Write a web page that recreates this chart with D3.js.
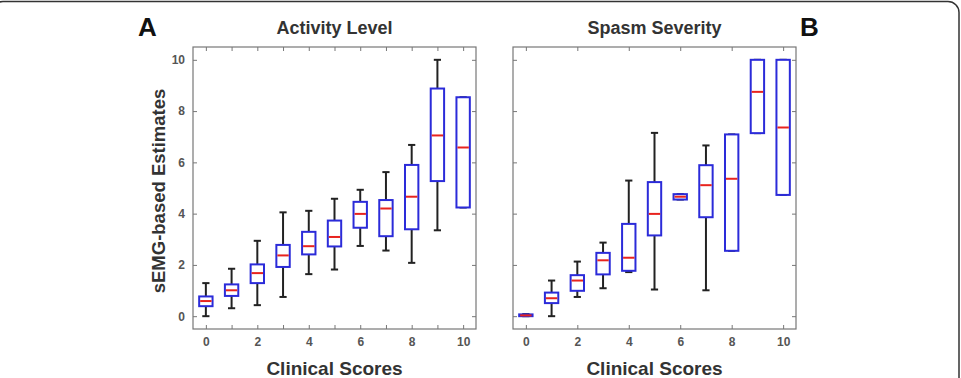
<!DOCTYPE html>
<html>
<head>
<meta charset="utf-8">
<script src="https://cdn.jsdelivr.net/npm/d3@7"></script>
<style>
  body { margin: 0; background: #fff; }
  svg { font-family: "Liberation Sans", Arial, sans-serif; }
  .tick text { font-weight: bold; fill: #555; font-size: 12px; }
  .domain { display: none; }
  .tick line { stroke: #777; }
</style>
</head>
<body>
<div class="chart"></div>
<script>
// clinical scores 0..10
var scores = [0, 1, 2, 3, 4, 5, 6, 7, 8, 9, 10];

// Activity Level: whisker low, q1, median, q3, whisker high
var actLow  = [0.00, 0.31, 0.43, 0.75, 1.64, 1.82, 2.74, 2.56, 2.08, 3.35, 4.24];
var actQ1   = [0.39, 0.79, 1.29, 1.92, 2.41, 2.72, 3.45, 3.12, 3.39, 5.27, 4.24];
var actMed  = [0.59, 1.01, 1.68, 2.37, 2.73, 3.09, 3.99, 4.20, 4.66, 7.05, 6.58];
var actQ3   = [0.77, 1.24, 2.02, 2.78, 3.29, 3.73, 4.46, 4.53, 5.90, 8.88, 8.54];
var actHigh = [1.29, 1.85, 2.94, 4.05, 4.11, 4.58, 4.93, 5.62, 6.68, 10.0, 8.54];

// Spasm Severity
var spLow  = [0.00, 0.00, 0.75, 1.09, 1.72, 1.04, 4.55, 1.01, 2.55, 7.14, 4.73];
var spQ1   = [0.00, 0.51, 0.99, 1.63, 1.77, 3.15, 4.55, 3.86, 2.55, 7.14, 4.73];
var spMed  = [0.03, 0.70, 1.39, 2.18, 2.28, 3.99, 4.66, 5.11, 5.36, 8.75, 7.36];
var spQ3   = [0.07, 0.92, 1.60, 2.47, 3.60, 5.23, 4.76, 5.89, 7.09, 10.0, 10.0];
var spHigh = [0.08, 1.39, 2.13, 2.87, 5.29, 7.15, 4.76, 6.66, 7.09, 10.0, 10.0];

var yTicks = [0, 2, 4, 6, 8, 10];

var svgWidth = 961, svgHeight = 378;
var panelTop = 47, panelHeight = 282, panelWidth = 283;

var svg = d3.select(".chart").append("svg")
  .attr("width", svgWidth)
  .attr("height", svgHeight);

// rounded frame round the figure
svg.append("rect")
  .attr("x", -8).attr("y", 1.5)
  .attr("width", 967).attr("height", 420)
  .attr("rx", 11)
  .attr("fill", "none")
  .attr("stroke", "#333")
  .attr("stroke-width", 1.5);

function makeRows(low, q1, med, q3, high) {
  return scores.map(function(s, i) {
    return { x: s, low: low[i], q1: q1[i], med: med[i], q3: q3[i], high: high[i] };
  });
}

function drawPanel(left, title, rows, xTickVals, showYLabels) {
  var x = d3.scaleLinear().domain([-0.5, 10.5]).range([0, panelWidth]);
  var y = d3.scaleLinear().domain([-0.5, 10.5]).range([panelHeight, 0]);
  var g = svg.append("g").attr("transform", `translate(${left}, ${panelTop})`);

  // axes with inward ticks on all four sides
  g.append("g").attr("transform", `translate(0, ${panelHeight})`)
    .call(d3.axisBottom(x).tickValues(xTickVals).tickSizeInner(-4).tickPadding(8)
      .tickFormat(function(d) { return d % 2 ? "" : d; }));
  g.append("g")
    .call(d3.axisTop(x).tickValues(xTickVals).tickSizeInner(-4).tickFormat(""));
  g.append("g")
    .call(d3.axisLeft(y).tickValues(yTicks).tickSizeInner(-4).tickPadding(8)
      .tickFormat(showYLabels ? d3.format("d") : ""));
  g.append("g").attr("transform", `translate(${panelWidth}, 0)`)
    .call(d3.axisRight(y).tickValues(yTicks).tickSizeInner(-4).tickFormat(""));

  g.append("rect")
    .attr("width", panelWidth).attr("height", panelHeight)
    .attr("fill", "none").attr("stroke", "#777").attr("stroke-width", 1.2);

  var boxW = x(0.26) - x(0);
  var capW = x(0.14) - x(0);

  var b = g.selectAll(".box").data(rows).enter().append("g").attr("class", "box");

  // whiskers
  b.append("line")
    .attr("x1", function(d) { return x(d.x); }).attr("x2", function(d) { return x(d.x); })
    .attr("y1", function(d) { return y(d.high); }).attr("y2", function(d) { return y(d.q3); })
    .attr("stroke", "#222").attr("stroke-width", 2);
  b.append("line")
    .attr("x1", function(d) { return x(d.x); }).attr("x2", function(d) { return x(d.x); })
    .attr("y1", function(d) { return y(d.q1); }).attr("y2", function(d) { return y(d.low); })
    .attr("stroke", "#222").attr("stroke-width", 2);
  b.append("line")
    .attr("x1", function(d) { return x(d.x) - capW; }).attr("x2", function(d) { return x(d.x) + capW; })
    .attr("y1", function(d) { return y(d.high); }).attr("y2", function(d) { return y(d.high); })
    .attr("stroke", "#222").attr("stroke-width", 2);
  b.append("line")
    .attr("x1", function(d) { return x(d.x) - capW; }).attr("x2", function(d) { return x(d.x) + capW; })
    .attr("y1", function(d) { return y(d.low); }).attr("y2", function(d) { return y(d.low); })
    .attr("stroke", "#222").attr("stroke-width", 2);

  // boxes
  b.append("rect")
    .attr("x", function(d) { return x(d.x) - boxW; })
    .attr("y", function(d) { return y(d.q3); })
    .attr("width", 2 * boxW)
    .attr("height", function(d) { return Math.max(y(d.q1) - y(d.q3), 1); })
    .attr("fill", "#fff").attr("stroke", "#2b2bd9").attr("stroke-width", 2);

  // medians
  b.append("line")
    .attr("x1", function(d) { return x(d.x) - boxW + 1; }).attr("x2", function(d) { return x(d.x) + boxW - 1; })
    .attr("y1", function(d) { return y(d.med); }).attr("y2", function(d) { return y(d.med); })
    .attr("stroke", "#e8231e").attr("stroke-width", 2);

  svg.append("text")
    .attr("x", left + panelWidth / 2).attr("y", 34)
    .attr("text-anchor", "middle")
    .attr("font-weight", "bold").attr("font-size", 18).attr("fill", "#333")
    .text(title);

  svg.append("text")
    .attr("x", left + panelWidth / 2).attr("y", 375)
    .attr("text-anchor", "middle")
    .attr("font-weight", "bold").attr("font-size", 19).attr("fill", "#333")
    .text("Clinical Scores");
}

drawPanel(193, "Activity Level", makeRows(actLow, actQ1, actMed, actQ3, actHigh), scores, true);
drawPanel(513, "Spasm Severity", makeRows(spLow, spQ1, spMed, spQ3, spHigh), yTicks, false);

// y-axis label
svg.append("text")
  .attr("transform", "translate(165, 191) rotate(-90)")
  .attr("text-anchor", "middle")
  .attr("font-weight", "bold").attr("font-size", 18.5).attr("fill", "#333")
  .text("sEMG-based Estimates");

// panel letters
svg.append("text").attr("x", 138).attr("y", 36)
  .attr("font-weight", "bold").attr("font-size", 26).attr("fill", "#111").text("A");
svg.append("text").attr("x", 800).attr("y", 36)
  .attr("font-weight", "bold").attr("font-size", 26).attr("fill", "#111").text("B");
</script>
</body>
</html>
